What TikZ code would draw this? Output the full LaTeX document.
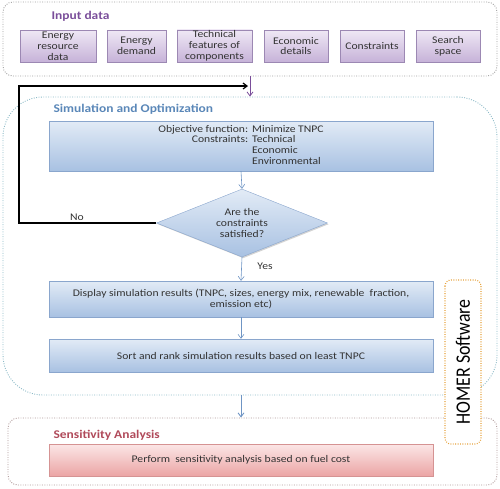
\documentclass[tikz,border=0pt]{standalone}
\usepackage{fontspec}
\setmainfont{Carlito}[FakeStretch=1.14]
\newfontfamily\homerfont{Carlito}[FakeStretch=0.87]
\usepackage{xcolor}
\usetikzlibrary{arrows.meta,shapes.geometric,shadows}
\definecolor{boxtext}{HTML}{333333}
\definecolor{inborder}{HTML}{9C88B3}
\definecolor{intop}{HTML}{EFE8F5}
\definecolor{inbot}{HTML}{C6B2D8}
\definecolor{simborder}{HTML}{8AA6CD}
\definecolor{simtop}{HTML}{E2EBF6}
\definecolor{simbot}{HTML}{A8C1E2}
\definecolor{senborder}{HTML}{D59393}
\definecolor{sentop}{HTML}{FBE6E6}
\definecolor{senbot}{HTML}{EBA5A5}
\definecolor{intitle}{HTML}{7A4E9A}
\definecolor{simtitle}{HTML}{5A87B8}
\definecolor{sentitle}{HTML}{B04A5A}
\definecolor{inframe}{HTML}{A0A0A0}
\definecolor{simframe}{HTML}{8CBAC7}
\definecolor{senframe}{HTML}{AD9696}
\definecolor{homer}{HTML}{E6A23C}
\definecolor{flow}{HTML}{6F95C4}
\definecolor{inarrow}{HTML}{7A4E9A}
\tikzset{
  frame/.style={line width=0.9pt, dash pattern=on 0.9pt off 1.5pt, rounded corners=10pt},
  shade/.style={drop shadow={opacity=0.35, shadow xshift=1.2pt, shadow yshift=-1.2pt}},
  boxIn/.style={draw=inborder, top color=intop, bottom color=inbot, shade, minimum height=32pt,
    align=center, inner sep=1pt, text=boxtext, font=\fontsize{10.2}{10.8}\selectfont},
  boxSim/.style={draw=simborder, top color=simtop, bottom color=simbot, shade, minimum width=384pt,
    align=center, inner sep=1pt, text=boxtext, font=\fontsize{10.2}{11}\selectfont},
  boxSens/.style={draw=senborder, top color=sentop, bottom color=senbot, shade, minimum width=384pt,
    minimum height=32pt, align=center, text=boxtext, font=\fontsize{10.2}{11}\selectfont},
  title/.style={anchor=west, font=\bfseries\fontsize{11.8}{13}\selectfont},
  arrF/.style={draw=flow, line width=0.6pt, -{Straight Barb[length=4pt,width=6pt]}},
  lab/.style={text=boxtext, font=\fontsize{10.2}{11}\selectfont}
}
\begin{document}
\begin{tikzpicture}[x=1pt,y=-1pt]
  \useasboundingbox (0,0) rectangle (500,488);

  % outer frames
  \node[frame, draw=inframe, minimum width=494pt, minimum height=74pt] (inF) at (250,39) {};
  \node[frame, draw=simframe, rounded corners=40pt, minimum width=494pt, minimum height=298pt] (simF) at (250,246) {};
  \node[frame, draw=senframe, minimum width=489pt, minimum height=67pt] (senF) at (252.5,451.5) {};

  \node[title, text=intitle] at (48,16) {Input data};
  \node[title, text=simtitle] at (50,109) {Simulation and Optimization};
  \node[title, text=sentitle] at (50,435) {Sensitivity Analysis};

  % input data
  \node[boxIn, minimum width=76pt] (resource) at (58,46) {Energy\\resource\\data};
  \node[boxIn, minimum width=59pt] (demand) at (136.5,46) {Energy\\demand};
  \node[boxIn, minimum width=75pt] (tech) at (214.5,46) {Technical\\features of\\components};
  \node[boxIn, minimum width=64pt] (econ) at (296,46) {Economic\\details};
  \node[boxIn, minimum width=64pt] (cons) at (372,46) {Constraints};
  \node[boxIn, minimum width=64pt] (space) at (448,46) {Search\\space};

  % simulation and optimization
  \node[boxSim, minimum height=50pt] (obj) at (241,146)
    {\begin{tabular}{@{}r@{\hspace{4pt}}l@{}}
      Objective function: & Minimize TNPC\\[-0.4pt]
      Constraints: & Technical\\[-0.4pt]
       & Economic\\[-0.4pt]
       & Environmental
     \end{tabular}};
  \node[diamond, draw=simborder, top color=simtop, bottom color=simbot, shade, aspect=2.5,
    minimum width=171pt, minimum height=68pt, inner sep=0pt, align=center, text=boxtext,
    font=\fontsize{10.2}{11}\selectfont] (check) at (242,223) {Are the\\constraints\\satisfied?};
  \node[boxSim, minimum height=36pt] (disp) at (241,299)
    {Display simulation results (TNPC, sizes, energy mix, renewable \ fraction,\\emission etc)};
  \node[boxSim, minimum height=33pt] (sort) at (241,355.5)
    {Sort and rank simulation results based on least TNPC};

  % sensitivity
  \node[boxSens] (sens) at (241,460) {Perform \ sensitivity analysis based on fuel cost};

  % software
  \node[frame, draw=homer, fill=white, rounded corners=6pt, line width=1.1pt, rotate=90,
    minimum width=164pt, minimum height=36pt, inner sep=0pt] (homerbox) at (463,362)
    {\homerfont\fontsize{20.5}{22}\selectfont HOMER Software};

  % connectors
  \draw[draw=inarrow, line width=0.8pt, -{Straight Barb[length=4pt,width=6pt]}] (inF.south) -- (simF.north);
  \coordinate (fbTurn) at (19,86);
  \coordinate (fbEnd) at (248,86);
  \draw[line width=1.2pt, -{Straight Barb[length=4pt,width=6pt]}] (check.west) -| (fbTurn) -- (fbEnd);
  \node[lab] at (77,217) {No};
  \draw[arrF] (obj.south) -- (check.north);
  \draw[arrF] (check.south) -- (disp.north);
  \node[lab] at (265,266) {Yes};
  \draw[arrF] (disp.south) -- (sort.north);
  \draw[arrF, line width=0.9pt] (sort.south |- simF.south) -- (sort.south |- senF.north);
\end{tikzpicture}
\end{document}
